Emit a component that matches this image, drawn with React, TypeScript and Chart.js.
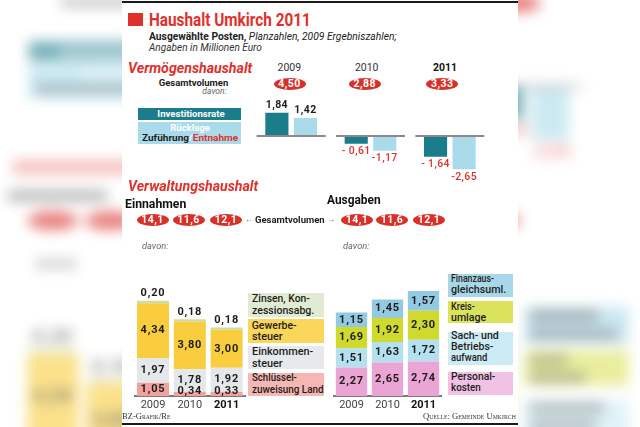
import React, { useEffect, useLayoutEffect, useRef, useState } from "react";
import { Chart, registerables } from "chart.js";
Chart.register(...registerables);

// ---------- data ----------
const vmYears = ["2009", "2010", "2011"];
const vmTotals = [4.5, 2.88, 3.33];
const vmInvestition = [1.84, -0.61, -1.64];
const vmRuecklage = [1.42, -1.17, -2.65];

const years = ["2009", "2010", "2011"];
const einTotals = [14.1, 11.6, 12.1];
const ausTotals = [14.1, 11.6, 12.1];
const einSchluessel = [1.05, 0.34, 0.33];
const einEinkommen = [1.97, 1.78, 1.92];
const einGewerbe = [4.34, 3.8, 3.0];
const einZinsen = [0.2, 0.18, 0.18];
const ausPersonal = [2.27, 2.65, 2.74];
const ausSach = [1.51, 1.63, 1.72];
const ausKreis = [1.69, 1.92, 2.3];
const ausFinanz = [1.15, 1.45, 1.57];

// ---------- layout / style ----------
const FONT = "Roboto, 'Liberation Sans', Arial, sans-serif";
const SERIF = "'Liberation Serif', 'DejaVu Serif', serif";
const RED = "#e0302b";
const PILL = "#d9302a";
const INK = "#1d1d1b";
const TEAL = "#1b7d8c";
const LBLUE = "#a9dbea";
const C_EIN = { schl: "#f2a19f", eink: "#e4e8eb", gew: "#f9cd3d", zins: "#cadca8" };
const L_EIN = { schl: "#f6b6b3", eink: "#e7eaed", gew: "#fad65a", zins: "#e1ead2" };
const C_AUS = { pers: "#eaa5d5", sach: "#b5e0ef", kreis: "#d0da2e", fin: "#93cae2" };
const L_AUS = { pers: "#f1c2e3", sach: "#cdebf4", kreis: "#dbe25c", fin: "#a9d7ea" };

const VM_YEAR_X = [289.3, 366.7, 445];
const VM_PILL_X = [289.5, 364.7, 442.2];
const EIN_PILL_X = [152.5, 188.5, 226];
const AUS_PILL_X = [357, 392, 429];

const fmt = (v: number, d = 2) => v.toFixed(d).replace(".", ",");

// ---------- primitives ----------
function Txt(props: any) {
  const { g, x, b, size, weight = 400, italic = false, color = INK, w, align = "left", family = FONT, smallCaps = false, ls, children } = props;
  const ref = useRef<HTMLSpanElement>(null);
  const [s, setS] = useState(1);
  useLayoutEffect(() => {
    if (!g && w && ref.current) {
      const ow = ref.current.offsetWidth;
      if (ow > 0) setS(w / ow);
    }
  }, [w, g]);
  if (g) {
    const ew = w ?? String(children).length * size * 0.5;
    const left = align === "left" ? x : align === "right" ? x - ew : x - ew / 2;
    return <div style={{ position: "absolute", left, top: b - size * 0.62, width: ew, height: size * 0.6, background: color, opacity: 0.5, borderRadius: 2 }} />;
  }
  const st: React.CSSProperties = {
    position: "absolute",
    top: b - 0.845 * size,
    whiteSpace: "nowrap",
    lineHeight: 1,
    fontSize: size,
    fontFamily: family,
    fontWeight: weight,
    fontStyle: italic ? "italic" : "normal",
    color,
    letterSpacing: ls,
    fontVariant: smallCaps ? "small-caps" : undefined,
  };
  if (align === "left") {
    st.left = x;
    st.transformOrigin = "left center";
    st.transform = `scaleX(${s})`;
  } else if (align === "right") {
    st.right = 640 - x;
    st.transformOrigin = "right center";
    st.transform = `scaleX(${s})`;
  } else {
    st.left = x;
    st.transformOrigin = "center center";
    st.transform = `translateX(-50%) scaleX(${s})`;
  }
  return (
    <span ref={ref} style={st}>
      {children}
    </span>
  );
}

function Rect({ x, y, w, h, c, r = 0 }: any) {
  return <div style={{ position: "absolute", left: x, top: y, width: w, height: h, background: c, borderRadius: r }} />;
}

function Pill({ g, cx, cy, w = 32, h = 12, text }: any) {
  return (
    <div
      style={{
        position: "absolute",
        left: cx - w / 2,
        top: cy - h / 2,
        width: w,
        height: h,
        borderRadius: "50%",
        background: PILL,
        display: "flex",
        alignItems: "center",
        justifyContent: "center",
        color: "#fff",
        fontFamily: FONT,
        fontWeight: 700,
        fontSize: 10.5,
        letterSpacing: 0.4,
        lineHeight: 1,
      }}
    >
      {g ? null : text}
    </div>
  );
}

function LBox({ g, x, y, w, h, c, lines, tx, first, step }: any) {
  return (
    <>
      <Rect x={x} y={y} w={w} h={h} c={c} />
      {lines.map((ln: any, i: number) => (
        <Txt key={i} g={g} x={tx} b={y + first + i * step} size={10.5} weight={500} w={ln.w}>
          {ln.t}
        </Txt>
      ))}
    </>
  );
}

function ChartCanvas({ left, top, width, height, make }: any) {
  const ref = useRef<HTMLCanvasElement>(null);
  useEffect(() => {
    const c = new Chart(ref.current as HTMLCanvasElement, make());
    return () => c.destroy();
  }, []);
  return <canvas ref={ref} width={width} height={height} style={{ position: "absolute", left, top, width, height }} />;
}

// ---------- chart configs ----------
const segBaseline = {
  id: "segBaseline",
  afterDatasetsDraw(chart: any) {
    const { ctx, scales } = chart;
    const x = scales.x, y = scales.y;
    const y0 = y.getPixelForValue(0);
    const cw = x.width / chart.data.labels.length;
    ctx.save();
    ctx.strokeStyle = "#8a8a8a";
    ctx.lineWidth = 2;
    chart.data.labels.forEach((_: any, i: number) => {
      const cx = x.getPixelForValue(i);
      ctx.beginPath();
      ctx.moveTo(cx - cw * 0.435, y0);
      ctx.lineTo(cx + cw * 0.435, y0);
      ctx.stroke();
    });
    ctx.restore();
  },
};

const vmLabels = {
  id: "vmLabels",
  afterDatasetsDraw(chart: any) {
    const ctx = chart.ctx;
    chart.data.datasets.forEach((ds: any, di: number) => {
      chart.getDatasetMeta(di).data.forEach((bar: any, i: number) => {
        const v = ds.data[i];
        const neg = v < 0;
        const txt = (neg ? (di === 0 ? "- " : "-") : "") + fmt(Math.abs(v));
        ctx.save();
        ctx.font = `${neg ? 500 : 700} 10.5px ${FONT}`;
        (ctx as any).letterSpacing = "0.4px";
        ctx.fillStyle = neg ? RED : INK;
        ctx.textAlign = "center";
        ctx.textBaseline = "middle";
        ctx.fillText(txt, bar.x, neg ? bar.y + 8 : bar.y - 7.5);
        ctx.restore();
      });
    });
  },
};

function makeVm() {
  return {
    type: "bar",
    data: {
      labels: vmYears,
      datasets: [
        { label: "Investitionsrate", data: vmInvestition, backgroundColor: TEAL, barPercentage: 0.81, categoryPercentage: 0.72 },
        { label: "Rücklage", data: vmRuecklage, backgroundColor: LBLUE, barPercentage: 0.81, categoryPercentage: 0.72 },
      ],
    },
    options: {
      animation: false,
      responsive: false,
      layout: { padding: { left: 1.5, right: 2.5, top: 12.5, bottom: 13.7 } },
      plugins: { legend: { display: false }, tooltip: { enabled: false } },
      scales: { x: { display: false }, y: { display: false, min: -3.2, max: 2.5 } },
    },
    plugins: [segBaseline, vmLabels],
  };
}

function stackLabels(topAbove: boolean) {
  return {
    id: "stackLabels",
    afterDatasetsDraw(chart: any) {
      const ctx = chart.ctx;
      const n = chart.data.datasets.length;
      const y0 = chart.scales.y.getPixelForValue(0);
      chart.data.datasets.forEach((ds: any, di: number) => {
        chart.getDatasetMeta(di).data.forEach((bar: any, i: number) => {
          const v = ds.data[i];
          const yy = topAbove && di === n - 1 ? bar.y - 7 : Math.min((bar.y + bar.base) / 2, y0 - 5);
          ctx.save();
          ctx.font = `700 11px ${FONT}`;
          (ctx as any).letterSpacing = "0.8px";
          ctx.fillStyle = INK;
          ctx.textAlign = "center";
          ctx.textBaseline = "middle";
          ctx.fillText(fmt(v), bar.x, yy);
          ctx.restore();
        });
      });
    },
  };
}

function makeStack(datasets: any[], topAbove: boolean, padL: number, padR: number) {
  return () => ({
    type: "bar",
    data: { labels: years, datasets },
    options: {
      animation: false,
      responsive: false,
      layout: { padding: { left: padL, right: padR, top: 1.6, bottom: 0 } },
      plugins: { legend: { display: false }, tooltip: { enabled: false } },
      datasets: { bar: { barPercentage: 0.87, categoryPercentage: 1 } },
      scales: {
        x: {
          stacked: true,
          grid: { display: false, drawTicks: false },
          border: { display: true, color: "#7a7a7a", width: 2 },
          ticks: {
            padding: 3,
            autoSkip: false,
            maxRotation: 0,
            color: (c: any) => (c.index === 2 ? "#111" : "#444"),
            font: (c: any) => ({ family: FONT, size: 11, weight: c.index === 2 ? "bold" : "normal" }),
          },
          afterFit: (s: any) => {
            s.height = 19;
          },
        },
        y: { stacked: true, display: false, min: 0, max: 9 },
      },
    },
    plugins: [stackLabels(topAbove)],
  });
}

const makeEin = makeStack(
  [
    { label: "Schlüsselzuweisung Land", data: einSchluessel, backgroundColor: C_EIN.schl },
    { label: "Einkommensteuer", data: einEinkommen, backgroundColor: C_EIN.eink },
    { label: "Gewerbesteuer", data: einGewerbe, backgroundColor: C_EIN.gew },
    { label: "Zinsen, Konzessionsabg.", data: einZinsen, backgroundColor: C_EIN.zins },
  ],
  true,
  1.6,
  2
);

const makeAus = makeStack(
  [
    { label: "Personalkosten", data: ausPersonal, backgroundColor: C_AUS.pers },
    { label: "Sach- und Betriebsaufwand", data: ausSach, backgroundColor: C_AUS.sach },
    { label: "Kreisumlage", data: ausKreis, backgroundColor: C_AUS.kreis },
    { label: "Finanzausgleichsumlage", data: ausFinanz, backgroundColor: C_AUS.fin },
  ],
  false,
  1.5,
  2.5
);

// ---------- scene ----------
function Scene({ g }: { g: boolean }) {
  return (
    <>
      <Rect x={122} y={1} w={396} h={2} c="#1a1a1a" />
      <Rect x={122} y={423} w={396} h={2} c="#1a1a1a" />
      <Rect x={128.3} y={13.3} w={15} h={13} c={RED} />
      <Txt g={g} x={149.3} b={26.5} size={19} weight={700} color={RED} w={162}>
        Haushalt Umkirch 2011
      </Txt>
      <Txt g={g} x={149.3} b={40.5} size={10.5} color="#222" w={247.5}>
        <span style={{ fontWeight: 700 }}>Ausgewählte Posten,</span>
        <span style={{ fontStyle: "italic" }}> Planzahlen, 2009 Ergebniszahlen;</span>
      </Txt>
      <Txt g={g} x={149.3} b={51.5} size={10.5} italic color="#333" w={113}>
        Angaben in Millionen Euro
      </Txt>

      {/* Vermögenshaushalt */}
      <Txt g={g} x={128.3} b={73.5} size={15} weight={700} italic color={RED} w={124}>
        Vermögenshaushalt
      </Txt>
      {vmYears.map((y, i) => (
        <Txt key={y} g={g} x={VM_YEAR_X[i]} b={71.7} size={10.5} align="center" weight={i === 2 ? 700 : 400} color={i === 2 ? "#111" : "#333"}>
          {y}
        </Txt>
      ))}
      {vmTotals.map((v, i) => (
        <Pill key={i} g={g} cx={VM_PILL_X[i]} cy={84} w={32} h={12} text={fmt(v)} />
      ))}
      <Txt g={g} x={228.3} b={86.5} size={9.5} weight={700} align="right" w={70}>
        Gesamtvolumen
      </Txt>
      <Txt g={g} x={226.7} b={94.3} size={9} italic color="#666" align="right" w={24.7}>
        davon:
      </Txt>
      <Rect x={137.7} y={108.3} w={103.3} h={11.7} c={TEAL} />
      <Txt g={g} x={190.5} b={117.5} size={9.5} weight={700} color="#fff" align="center" w={67.6}>
        Investitionsrate
      </Txt>
      <Rect x={137.7} y={122.3} w={103.3} h={22} c={LBLUE} />
      <Txt g={g} x={190} b={131.5} size={9.5} weight={700} color="#fff" align="center" w={40}>
        Rücklage
      </Txt>
      <Txt g={g} x={141.7} b={140.7} size={9.5} weight={700} w={96}>
        <span style={{ color: INK }}>Zuführung</span>
        <span style={{ color: "#fff" }}>/</span>
        <span style={{ color: RED }}>Entnahme</span>
      </Txt>
      <ChartCanvas left={250} top={92} width={242} height={98} make={makeVm} />

      {/* Verwaltungshaushalt */}
      <Txt g={g} x={128.3} b={191.5} size={15} weight={700} italic color={RED} w={130}>
        Verwaltungshaushalt
      </Txt>
      <Txt g={g} x={125} b={208.3} size={12.5} weight={700} color="#111" w={61.7}>
        Einnahmen
      </Txt>
      <Txt g={g} x={326.7} b={204.3} size={12.5} weight={700} color="#111" w={53.3}>
        Ausgaben
      </Txt>
      {einTotals.map((v, i) => (
        <Pill key={"e" + i} g={g} cx={EIN_PILL_X[i]} cy={220.3} w={32} h={12} text={fmt(v, 1)} />
      ))}
      {ausTotals.map((v, i) => (
        <Pill key={"a" + i} g={g} cx={AUS_PILL_X[i]} cy={220.3} w={32} h={12} text={fmt(v, 1)} />
      ))}
      <Txt g={g} x={249} b={223} size={8} color="#666" align="center">
        ←
      </Txt>
      <Txt g={g} x={255} b={223.5} size={9.5} weight={700} w={70}>
        Gesamtvolumen
      </Txt>
      <Txt g={g} x={331} b={223} size={8} color="#666" align="center">
        →
      </Txt>
      <Txt g={g} x={141.7} b={250} size={9} italic color="#666" w={26.7}>
        davon:
      </Txt>
      <Txt g={g} x={343.3} b={250} size={9} italic color="#666" w={26.7}>
        davon:
      </Txt>

      <ChartCanvas left={133} top={281} width={114} height={134} make={makeEin} />
      <ChartCanvas left={332} top={281} width={112} height={134} make={makeAus} />

      {/* Einnahmen legend */}
      <LBox g={g} x={248.3} y={292.7} w={76} h={24} c={L_EIN.zins} tx={251.7} first={10.5} step={11.5} lines={[{ t: "Zinsen, Kon-", w: 58.3 }, { t: "zessionsabg.", w: 62.3 }]} />
      <LBox g={g} x={248.3} y={319.3} w={76} h={23.5} c={L_EIN.gew} tx={251.7} first={10.5} step={11.5} lines={[{ t: "Gewerbe-", w: 45 }, { t: "steuer", w: 31 }]} />
      <LBox g={g} x={248.3} y={346} w={76} h={23.3} c={L_EIN.eink} tx={251.7} first={10.2} step={11.4} lines={[{ t: "Einkommen-", w: 61 }, { t: "steuer", w: 31 }]} />
      <LBox g={g} x={248.3} y={372.7} w={76} h={23.3} c={L_EIN.schl} tx={251.7} first={9.2} step={11.6} lines={[{ t: "Schlüssel-", w: 45 }, { t: "zuweisung Land", w: 71.7 }]} />

      {/* Ausgaben legend */}
      <LBox g={g} x={448.3} y={274} w={64.4} h={23.3} c={L_AUS.fin} tx={450.7} first={8.9} step={11.3} lines={[{ t: "Finanzaus-", w: 43.3 }, { t: "gleichsuml.", w: 55 }]} />
      <LBox g={g} x={448.3} y={300.7} w={64.4} h={22.6} c={L_AUS.kreis} tx={450.7} first={10} step={11} lines={[{ t: "Kreis-", w: 24.3 }, { t: "umlage", w: 35.3 }]} />
      <LBox g={g} x={448.3} y={331.7} w={64.4} h={33.3} c={L_AUS.sach} tx={450.7} first={8.5} step={11} lines={[{ t: "Sach- und", w: 47.7 }, { t: "Betriebs-", w: 42.7 }, { t: "aufwand", w: 36 }]} />
      <LBox g={g} x={448.3} y={371.7} w={64.4} h={23.3} c={L_AUS.pers} tx={450.7} first={9.3} step={10.7} lines={[{ t: "Personal-", w: 44.3 }, { t: "kosten", w: 30 }]} />

      <Txt g={g} x={121.7} b={420} size={9} family={SERIF} smallCaps color="#333" w={48.3}>
        BZ-Grafik/Re
      </Txt>
      <Txt g={g} x={423.3} b={420} size={9} family={SERIF} smallCaps color="#333" w={93.3}>
        Quelle: Gemeinde Umkirch
      </Txt>
    </>
  );
}

export default function App() {
  return (
    <div style={{ position: "fixed", left: 0, top: 0, width: 640, height: 427, overflow: "hidden", background: "#fff" }}>
      <div
        aria-hidden="true"
        style={{
          position: "absolute",
          left: 0,
          top: 0,
          width: 640,
          height: 427,
          transformOrigin: "320px 219px",
          transform: "scale(1.6)",
          filter: "blur(4px)",
          opacity: 0.6,
        }}
      >
        <Scene g={true} />
      </div>
      <div style={{ position: "absolute", left: 122, top: 0, width: 396, height: 427, background: "#fff" }} />
      <div style={{ position: "absolute", left: 0, top: 0, width: 640, height: 427 }}>
        <Scene g={false} />
      </div>
    </div>
  );
}
